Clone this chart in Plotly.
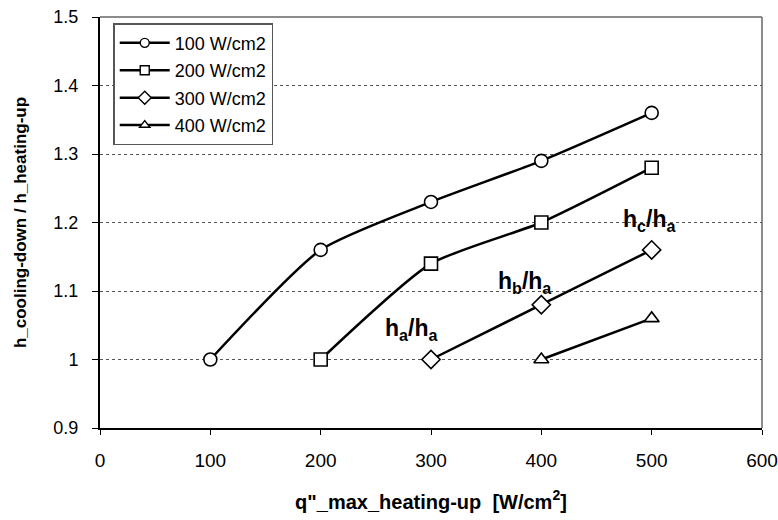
import plotly.graph_objects as go

# Heat flux (x) and heat-transfer-coefficient ratio (y) for each maximum heating-up flux
x_100 = [100, 200, 300, 400, 500]
y_100 = [1.00, 1.16, 1.23, 1.29, 1.36]
x_200 = [200, 300, 400, 500]
y_200 = [1.00, 1.14, 1.20, 1.28]
x_300 = [300, 400, 500]
y_300 = [1.00, 1.08, 1.16]
x_400 = [400, 500]
y_400 = [1.00, 1.06]

series = [
    ("100 W/cm2", x_100, y_100, "circle"),
    ("200 W/cm2", x_200, y_200, "square"),
    ("300 W/cm2", x_300, y_300, "diamond"),
    ("400 W/cm2", x_400, y_400, "triangle-up"),
]

x_ticks = [0, 100, 200, 300, 400, 500, 600]
y_ticks = [0.9, 1.0, 1.1, 1.2, 1.3, 1.4, 1.5]
y_tick_text = ["0.9", "1", "1.1", "1.2", "1.3", "1.4", "1.5"]

# Ratio labels placed beside the curves
ratio_labels = ["h<sub>a</sub>/h<sub>a</sub>", "h<sub>b</sub>/h<sub>a</sub>", "h<sub>c</sub>/h<sub>a</sub>"]
ratio_x = [282, 385, 498]
ratio_y = [1.044, 1.113, 1.203]

FONT = "Liberation Sans, Arial, sans-serif"

fig = go.Figure()
for i, (name, xs, ys, sym) in enumerate(series):
    big = 14 if sym == "diamond" else 13
    fig.add_trace(go.Scatter(
        x=xs, y=ys, name=name, mode="lines+markers", showlegend=False,
        line=dict(color="black", width=2.5, shape="spline", smoothing=0.6),
        marker=dict(symbol=sym, size=big, color="white",
                    line=dict(color="black", width=1.6)),
    ))
    # legend entry with a smaller key marker
    fig.add_trace(go.Scatter(
        x=[None], y=[None], name=name, mode="lines+markers",
        legendgroup="g%d" % i,
        line=dict(color="black", width=2.5),
        marker=dict(symbol=sym, size=10 if sym == "diamond" else 9, color="white",
                    line=dict(color="black", width=1.4)),
    ))

for txt, ax, ay in zip(ratio_labels, ratio_x, ratio_y):
    fig.add_annotation(x=ax, y=ay, text="<b>" + txt + "</b>", showarrow=False,
                       font=dict(family=FONT, size=23, color="black"))

fig.update_layout(
    width=778, height=520,
    margin=dict(l=100, r=16, t=17, b=92),
    paper_bgcolor="white", plot_bgcolor="white",
    font=dict(family=FONT, color="black"),
    showlegend=True,
    legend=dict(x=0.02, y=0.985, xanchor="left", yanchor="top",
                bgcolor="white", bordercolor="#555555", borderwidth=1.5,
                font=dict(family=FONT, size=18, color="black"),
                tracegroupgap=1, itemwidth=50, entrywidth=160),
    xaxis=dict(range=[0, 600], tickvals=x_ticks, showgrid=False,
               automargin=False,
               showline=True, linecolor="black", linewidth=2, mirror=False,
               ticks="outside", ticklen=5, tickcolor="black", tickwidth=1,
               ticklabelstandoff=9,
               tickfont=dict(family=FONT, size=19), zeroline=False,
               title=dict(text="<b>q\"_max_heating-up  [W/cm<sup>2</sup>]</b>",
                          font=dict(family=FONT, size=20), standoff=25)),
    yaxis=dict(range=[0.9, 1.5], tickvals=y_ticks, ticktext=y_tick_text,
               automargin=False,
               showgrid=True, gridcolor="#555555", griddash="dot", gridwidth=1,
               showline=True, linecolor="black", linewidth=2,
               ticks="outside", ticklen=6, tickcolor="black", tickwidth=1,
               ticklabelstandoff=10,
               tickfont=dict(family=FONT, size=18), zeroline=False,
               title=dict(text="<b>h_cooling-down / h_heating-up</b>",
                          font=dict(family=FONT, size=17), standoff=22)),
)

# Light frame along the top and right of the plotting area
fig.add_shape(type="line", xref="paper", yref="paper", x0=0, x1=1, y0=1, y1=1,
              line=dict(color="#666666", width=1.5))
fig.add_shape(type="line", xref="paper", yref="paper", x0=1, x1=1, y0=0, y1=1,
              line=dict(color="#666666", width=1.5))

fig.write_html("out.html")
